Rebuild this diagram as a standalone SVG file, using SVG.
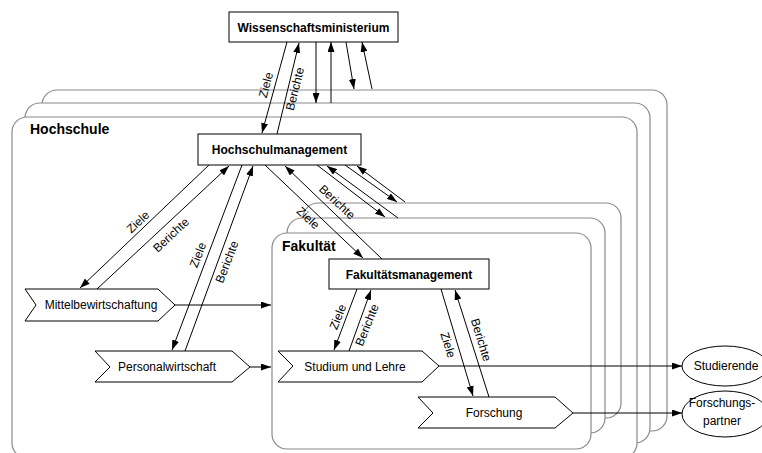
<svg xmlns="http://www.w3.org/2000/svg" width="762" height="453" viewBox="0 0 762 453">
<defs>
<marker id="ah" markerWidth="10" markerHeight="7" refX="10" refY="3.5" orient="auto" markerUnits="userSpaceOnUse">
<path d="M0,0 L10,3.5 L0,7 z" fill="#000"/>
</marker>
<style>
.stack{fill:#fff;stroke:#8a8a8a;stroke-width:1.2}
.box{fill:#fff;stroke:#000;stroke-width:1}
.ln{stroke:#000;stroke-width:1;fill:none;marker-end:url(#ah)}
.t{font-family:"Liberation Sans",Arial,sans-serif;font-size:12px;fill:#000}
.b{font-weight:bold}
.h{font-family:"Liberation Sans",Arial,sans-serif;font-size:14px;font-weight:bold;fill:#000}
.lb{font-family:"Liberation Sans",Arial,sans-serif;font-size:12px;fill:#000;text-anchor:middle;dominant-baseline:central}
.m{text-anchor:middle}
</style>
</defs>
<rect width="762" height="453" fill="#fff"/>
<g id="hochschule">
<rect class="stack" x="42" y="90" width="625" height="341" rx="15"/>
<rect class="stack" x="25" y="103" width="625" height="340" rx="15"/>
<rect class="stack" x="12" y="117" width="625" height="341" rx="15"/>
<text class="h" x="30" y="134">Hochschule</text>
</g>
<g id="fakultaet">
<rect class="stack" x="303" y="203" width="318" height="215" rx="15"/>
<rect class="stack" x="287" y="218" width="318" height="215" rx="15"/>
<rect class="stack" x="272" y="233" width="319" height="216" rx="15"/>
<text class="h" x="282" y="251">Fakultät</text>
</g>
<g id="connectors">
<line class="ln" x1="287" y1="42" x2="262" y2="133"/>
<line class="ln" x1="277" y1="134" x2="299" y2="43"/>
<line class="ln" x1="316" y1="42" x2="316" y2="103"/>
<line class="ln" x1="331" y1="103" x2="331" y2="42"/>
<line class="ln" x1="346" y1="42" x2="354" y2="89"/>
<line class="ln" x1="372" y1="89" x2="362" y2="42"/>
<line class="ln" x1="209" y1="165" x2="80" y2="288"/>
<line class="ln" x1="97" y1="289" x2="229" y2="166"/>
<line class="ln" x1="242" y1="165" x2="172" y2="350"/>
<line class="ln" x1="185" y1="351" x2="253" y2="166"/>
<line class="ln" x1="265" y1="165" x2="363" y2="258"/>
<line class="ln" x1="382" y1="259" x2="285" y2="166"/>
<line class="ln" x1="317" y1="165" x2="385" y2="217"/>
<line class="ln" x1="398" y1="218" x2="327" y2="166"/>
<line class="ln" x1="345" y1="165" x2="397" y2="202"/>
<line class="ln" x1="405" y1="202" x2="357" y2="166"/>
<line class="ln" x1="357" y1="289" x2="334" y2="350"/>
<line class="ln" x1="349" y1="351" x2="371" y2="290"/>
<line class="ln" x1="441" y1="289" x2="473" y2="396"/>
<line class="ln" x1="489" y1="397" x2="455" y2="290"/>
<line class="ln" x1="175" y1="305" x2="271" y2="305"/>
<line class="ln" x1="250" y1="367" x2="271" y2="367"/>
<line class="ln" x1="439" y1="366" x2="682" y2="366"/>
<line class="ln" x1="573" y1="413" x2="682" y2="413"/>
<text class="lb" transform="translate(266,85) rotate(-75)">Ziele</text>
<text class="lb" transform="translate(295,89) rotate(-76)">Berichte</text>
<text class="lb" transform="translate(138,222) rotate(-43)">Ziele</text>
<text class="lb" transform="translate(171,235) rotate(-43)">Berichte</text>
<text class="lb" transform="translate(198,255) rotate(-69)">Ziele</text>
<text class="lb" transform="translate(227,262) rotate(-69)">Berichte</text>
<text class="lb" transform="translate(308,218) rotate(43)">Ziele</text>
<text class="lb" transform="translate(337,202) rotate(43)">Berichte</text>
<text class="lb" transform="translate(338,317) rotate(-68)">Ziele</text>
<text class="lb" transform="translate(367,325) rotate(-68)">Berichte</text>
<text class="lb" transform="translate(448,345) rotate(73)">Ziele</text>
<text class="lb" transform="translate(481,340) rotate(73)">Berichte</text>
</g>
<g id="ministerium">
<rect class="box" x="229" y="12" width="169" height="30"/>
<text class="t b m" x="313.5" y="31.5">Wissenschaftsministerium</text>
</g>
<g id="hochschulmanagement">
<rect class="box" x="198" y="134" width="163" height="31"/>
<text class="t b m" x="279.5" y="154">Hochschulmanagement</text>
</g>
<g id="fakultaetsmanagement">
<rect class="box" x="329" y="259" width="160" height="30"/>
<text class="t b m" x="409" y="278.5">Fakultätsmanagement</text>
</g>
<g id="mittelbewirtschaftung">
<polygon class="box" points="25,289 158,289 175,305 158,321 25,321 36,305"/>
<text class="t m" x="101" y="309">Mittelbewirtschaftung</text>
</g>
<g id="personalwirtschaft">
<polygon class="box" points="95,351 232,351 250,367 232,382 95,382 110,367"/>
<text class="t m" x="167" y="371">Personalwirtschaft</text>
</g>
<g id="studium">
<polygon class="box" points="278,351 422,351 439,366 422,382 278,382 293,366"/>
<text class="t m" x="355" y="371">Studium und Lehre</text>
</g>
<g id="forschung">
<polygon class="box" points="418,397 555,397 573,413 555,428 418,428 433,413"/>
<text class="t m" x="494" y="417">Forschung</text>
</g>
<g id="studierende">
<ellipse class="box" cx="725" cy="366" rx="43" ry="20"/>
<text class="t m" x="726" y="370">Studierende</text>
</g>
<g id="forschungspartner">
<ellipse class="box" cx="725" cy="414" rx="43" ry="23"/>
<text class="t m" x="722" y="407">Forschungs-</text>
<text class="t m" x="722" y="425">partner</text>
</g>
</svg>
